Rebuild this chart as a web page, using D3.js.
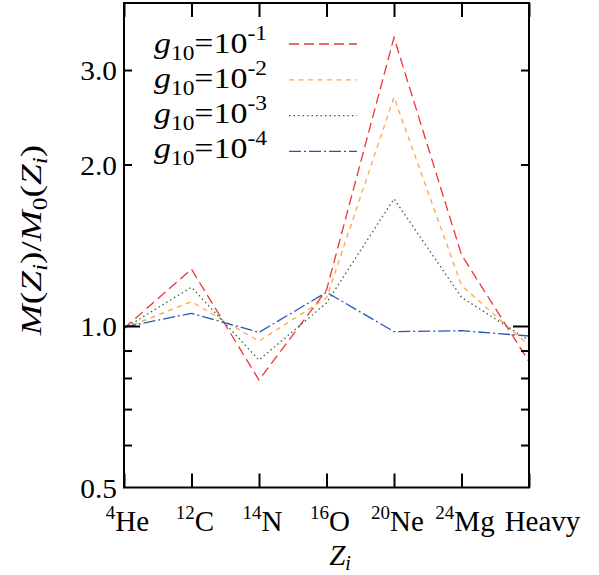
<!DOCTYPE html>
<html><head><meta charset="utf-8">
<script src="https://cdn.jsdelivr.net/npm/d3@7"></script>
<style>
body{margin:0;background:#fff}
text{font-family:"Liberation Serif","DejaVu Serif","Times New Roman",serif;fill:#000}
</style>
</head><body>
<svg id="chart" width="599" height="575"></svg>
<script>
// ---- data ----
const massNumbers = ["4","12","14","16","20","24",""];
const elements = ["He","C","N","O","Ne","Mg","Heavy"];
const gExponents = ["-1","-2","-3","-4"];
const seriesG1 = [0.99, 1.276, 0.793, 1.167, 3.45, 1.357, 0.858];
const seriesG2 = [0.99, 1.11, 0.937, 1.128, 2.67, 1.19, 0.92];
const seriesG3 = [0.99, 1.181, 0.864, 1.104, 1.726, 1.131, 0.94];
const seriesG4 = [0.995, 1.056, 0.973, 1.156, 0.976, 0.98, 0.958];
const yTickLabels = [0.5, 1.0, 2.0, 3.0];
const yMajorTicks = [1.0];
const yMinorTicks = [0.6, 0.7, 0.8, 0.9, 2.0, 3.0];
const yDomain = [0.5, 4.0];

// ---- layout ----
const W = 599, H = 575;
const m = {left:124, right:70, top:3, bottom:87.5};
const svg = d3.select("#chart");
const FONT = '"Liberation Serif","DejaVu Serif",serif';
const x = d3.scalePoint().domain(elements).range([m.left, W - m.right]).padding(0);
const y = d3.scaleLog().domain(yDomain).range([H - m.bottom, m.top]);

const styles = [
  {color:"#ee3535", dash:"10,5"},
  {color:"#ffa544", dash:"5,4.5"},
  {color:"#2f6b3c", dash:"1.5,3"},
  {color:"#2757b5", dash:"12,3,2,3"}
];
const series = [seriesG1, seriesG2, seriesG3, seriesG4];

const line = d3.line().x((d,i)=>x(elements[i])).y(d=>y(d));
const plot = svg.append("g");
series.forEach((s,k)=>{
  plot.append("path").datum(s).attr("d", line)
    .attr("fill","none").attr("stroke", styles[k].color)
    .attr("stroke-width",1.3).attr("stroke-dasharray", styles[k].dash);
});

// ---- axes ----
const x0 = m.left, x1 = W - m.right, y0 = H - m.bottom, y1 = m.top;
const tickStroke = g => g.selectAll("line").attr("stroke","#000").attr("stroke-width",2);

const xb = svg.append("g").attr("transform",`translate(0,${y0})`)
  .call(d3.axisBottom(x).tickSizeInner(-14).tickSizeOuter(0).tickFormat(""));
const xt = svg.append("g").attr("transform",`translate(0,${y1})`)
  .call(d3.axisTop(x).tickSizeInner(-14).tickSizeOuter(0).tickFormat(""));
[xb,xt].forEach(g=>{g.select(".domain").remove(); tickStroke(g);});

const yMinL = svg.append("g").attr("transform",`translate(${x0},0)`)
  .call(d3.axisLeft(y).tickValues(yMinorTicks).tickSizeInner(-8).tickSizeOuter(0).tickFormat(""));
const yMinR = svg.append("g").attr("transform",`translate(${x1},0)`)
  .call(d3.axisRight(y).tickValues(yMinorTicks).tickSizeInner(-8).tickSizeOuter(0).tickFormat(""));
const yMajL = svg.append("g").attr("transform",`translate(${x0},0)`)
  .call(d3.axisLeft(y).tickValues(yMajorTicks).tickSizeInner(-16).tickSizeOuter(0).tickFormat(""));
const yMajR = svg.append("g").attr("transform",`translate(${x1},0)`)
  .call(d3.axisRight(y).tickValues(yMajorTicks).tickSizeInner(-16).tickSizeOuter(0).tickFormat(""));
[yMinL,yMinR,yMajL,yMajR].forEach(g=>{g.select(".domain").remove(); tickStroke(g);});

// y tick labels
const yLab = svg.append("g").attr("transform",`translate(${x0},0)`)
  .call(d3.axisLeft(y).tickValues(yTickLabels).tickSize(0).tickPadding(5).tickFormat(d3.format(".1f")));
yLab.attr("font-family",FONT).select(".domain").remove();
yLab.selectAll("text").attr("font-size",28).attr("font-family",FONT).attr("dy","0.34em")
  .attr("transform","scale(1.05,1)").attr("x",-7/1.05);

// x tick labels with superscripts
const xLab = svg.append("g").attr("transform",`translate(0,${y0})`)
  .call(d3.axisBottom(x).tickSize(0).tickPadding(0));
xLab.attr("font-family",FONT).select(".domain").remove();
xLab.selectAll("text").each(function(d,i){
  const t = d3.select(this).text(null).attr("y",43).attr("dy",null)
    .attr("dx", i === elements.length-1 ? 13 : 3)
    .attr("font-family",FONT);
  if (massNumbers[i]) {
    t.append("tspan").attr("font-size",19).attr("dy",-12).text(massNumbers[i]);
    t.append("tspan").attr("font-size",29).attr("dy",12).text(elements[i]);
  } else {
    t.append("tspan").attr("font-size",29).text(elements[i]);
  }
});

// border
svg.append("rect").attr("x",x0).attr("y",y1).attr("width",x1-x0).attr("height",y0-y1)
  .attr("fill","none").attr("stroke","#000").attr("stroke-width",2);

// helper: horizontally stretch a text to a target width around its anchor
function stretch(sel, target){
  const w = sel.node().getBBox().width;
  return w > 0 ? target / w : 1;
}

// ---- axis titles ----
const xt2 = svg.append("text").attr("x",340).attr("y",565).attr("text-anchor","middle");
xt2.append("tspan").attr("font-size",29).attr("font-style","italic").text("Z");
xt2.append("tspan").attr("font-size",20).attr("font-style","italic").attr("dy",5).text("i");

const yt = svg.append("text").attr("text-anchor","middle").attr("x",0).attr("y",0);
const parts = [
  ["M",29,"italic",0],["(",29,"normal",0],["Z",29,"italic",0],["i",20,"italic",6],
  [")",29,"normal",-6],["/",29,"normal",0],["M",29,"italic",0],["0",20,"normal",6],
  ["(",29,"normal",-6],["Z",29,"italic",0],["i",20,"italic",6],[")",29,"normal",-6]
];
parts.forEach(p=>yt.append("tspan").attr("font-size",p[1]).attr("font-style",p[2]).attr("dy",p[3]).text(p[0]));
const sy = stretch(yt, 192);
yt.attr("transform",`translate(41,240) rotate(-90) scale(${sy},1)`);

// ---- legend ----
gExponents.forEach((e,k)=>{
  const by = 53 + 35*k;
  const g = svg.append("g");
  const t = g.append("text").attr("x",0).attr("y",0);
  t.append("tspan").attr("font-size",29).attr("font-style","italic").text("g");
  t.append("tspan").attr("font-size",20).attr("dy",7).text("10");
  t.append("tspan").attr("font-size",29).attr("dy",-7).text("=10");
  t.append("tspan").attr("font-size",20).attr("dy",-13).text(e);
  const s = stretch(t, 113);
  t.attr("transform",`translate(154,${by}) scale(${s},1)`);
  svg.append("line").attr("x1",289).attr("x2",357).attr("y1",44+35.8*k).attr("y2",44+35.8*k)
    .attr("stroke",styles[k].color).attr("stroke-width",1.3).attr("stroke-dasharray",styles[k].dash);
});
</script>
</body></html>
